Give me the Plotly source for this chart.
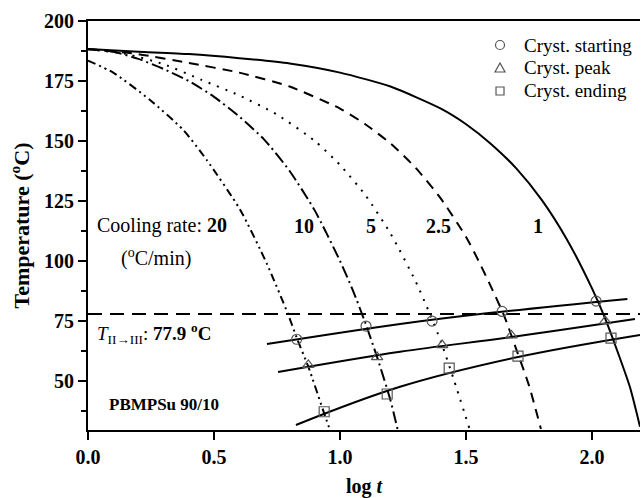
import plotly.graph_objects as go

# ---- data ----
rates = ["20", "10", "5", "2.5", "1"]

c20_x = [0, 0.1, 0.246, 0.378, 0.471, 0.603, 0.709, 0.795, 0.828, 0.874, 0.937, 0.96]
c20_T = [183.5, 178.5, 167.1, 154.6, 142.1, 121.5, 99.0, 77.5, 68.0, 56.0, 36.5, 29.6]

c10_x = [0, 0.1, 0.2, 0.3, 0.4, 0.5, 0.6, 0.7, 0.8, 0.9, 1.0, 1.05, 1.1, 1.15, 1.2, 1.228]
c10_T = [188.2, 187.2, 184.2, 180.0, 175.0, 168.4, 160.2, 150.5, 137.5, 121.0, 100.0, 88.0, 74.3, 59.0, 42.0, 30.0]

c5_x = [0, 0.15, 0.3, 0.45, 0.6, 0.75, 0.9, 1.0, 1.1, 1.2, 1.3, 1.35, 1.4, 1.45, 1.514]
c5_T = [188.2, 186.3, 182.0, 175.5, 169.0, 161.0, 150.0, 140.0, 127.5, 111.5, 91.5, 79.5, 66.5, 51.0, 30.0]

c25_x = [0, 0.2, 0.4, 0.6, 0.8, 1.0, 1.1, 1.2, 1.3, 1.4, 1.5, 1.55, 1.6, 1.65, 1.7, 1.75, 1.797]
c25_T = [188.3, 186.2, 182.5, 178.5, 172.7, 163.5, 157.0, 149.0, 138.8, 126.0, 110.0, 100.0, 89.0, 77.5, 63.0, 48.0, 30.0]

c1_x = [0, 0.2, 0.4, 0.6, 0.8, 1.0, 1.2, 1.4, 1.5, 1.6, 1.7, 1.8, 1.9, 2.0, 2.05, 2.1, 2.15, 2.19]
c1_T = [188.3, 187.2, 186.2, 184.5, 182.3, 178.5, 172.7, 163.5, 157.0, 148.7, 138.5, 125.5, 109.0, 88.5, 76.5, 62.5, 47.5, 31.0]

start_x = [0.828, 1.103, 1.365, 1.643, 2.016]
start_T = [67.4, 72.9, 75.0, 79.0, 83.3]
peak_x = [0.874, 1.147, 1.405, 1.680, 2.052]
peak_T = [56.7, 60.0, 65.0, 69.0, 75.0]
end_x = [0.937, 1.187, 1.433, 1.706, 2.075]
end_T = [37.2, 44.6, 55.4, 60.4, 67.9]

fit_start_x = [0.71, 1.238, 1.556, 2.14]
fit_start_T = [65.4, 73.75, 77.9, 84.2]
fit_peak_x = [0.754, 1.238, 1.68, 2.17]
fit_peak_T = [53.75, 62.2, 68.3, 75.8]
fit_end_x = [0.825, 1.238, 1.706, 2.19]
fit_end_T = [31.7, 47.6, 60.0, 69.2]

legend_labels = ["Cryst. starting", "Cryst. peak", "Cryst. ending"]

T_trans = 77.9
x_range = [0, 2.19]
y_range = [29.6, 200]

FONT = "Liberation Serif"

fig = go.Figure()

curves = [(c20_x, c20_T, "8px,4px,2px,4px,2px,4px"),
          (c10_x, c10_T, "12px,4px,2px,4px"),
          (c5_x, c5_T, "2px,7px"),
          (c25_x, c25_T, "10px,7px"),
          (c1_x, c1_T, "solid")]
for (xs, ts, dash), r in zip(curves, rates):
    fig.add_trace(go.Scatter(x=xs, y=ts, mode="lines", name=r + " °C/min",
                             line=dict(color="black", width=2, dash=dash, shape="spline", smoothing=0.6),
                             showlegend=False))

# transition line
fig.add_trace(go.Scatter(x=x_range, y=[T_trans, T_trans], mode="lines",
                         line=dict(color="black", width=2, dash="14px,8px"), showlegend=False))

for xs, ts in [(fit_start_x, fit_start_T), (fit_peak_x, fit_peak_T), (fit_end_x, fit_end_T)]:
    fig.add_trace(go.Scatter(x=xs, y=ts, mode="lines",
                             line=dict(color="black", width=2, shape="spline", smoothing=1.0),
                             showlegend=False))

GRAY = "#555555"
mk = dict(color="rgba(0,0,0,0)", size=10, line=dict(color=GRAY, width=1.2))
for xs, ts, sym, lab in [(start_x, start_T, "circle", legend_labels[0]),
                         (peak_x, peak_T, "triangle-up", legend_labels[1]),
                         (end_x, end_T, "square", legend_labels[2])]:
    fig.add_trace(go.Scatter(x=xs, y=ts, mode="markers", name=lab,
                             marker=dict(symbol=sym, **mk), showlegend=False))

# manual legend (symbols as pixel-sized shapes, labels as text)
leg_x_sym = 0.7464
leg_x_txt = 0.7862
leg_rows = [0.9413, 0.8851, 0.8289]
fig.add_shape(type="circle", xref="paper", yref="paper", xsizemode="pixel", ysizemode="pixel",
              xanchor=leg_x_sym, yanchor=leg_rows[0], x0=-4.5, x1=4.5, y0=-4.5, y1=4.5,
              line=dict(color=GRAY, width=1.2))
fig.add_shape(type="path", xref="paper", yref="paper", xsizemode="pixel", ysizemode="pixel",
              xanchor=leg_x_sym, yanchor=leg_rows[1], path="M -5,-4 L 5,-4 L 0,5 Z",
              line=dict(color=GRAY, width=1.2))
fig.add_shape(type="rect", xref="paper", yref="paper", xsizemode="pixel", ysizemode="pixel",
              xanchor=leg_x_sym, yanchor=leg_rows[2], x0=-4, x1=4, y0=-4, y1=4,
              line=dict(color=GRAY, width=1.2))
for lab, yy in zip(legend_labels, leg_rows):
    fig.add_annotation(xref="paper", yref="paper", x=leg_x_txt, y=yy, text=lab, showarrow=False,
                       xanchor="left", yanchor="middle", font=dict(family=FONT, size=19, color="black"))

annots = [
    dict(x=0.028, y=114.6, text="Cooling rate: <b>20</b>", xanchor="left"),
    dict(x=0.857, y=114.6, text="<b>10</b>", xanchor="center"),
    dict(x=1.123, y=114.6, text="<b>5</b>", xanchor="center"),
    dict(x=1.39, y=114.6, text="<b>2.5</b>", xanchor="center"),
    dict(x=1.786, y=114.6, text="<b>1</b>", xanchor="center"),
    dict(x=0.27, y=101.5, text="(<sup>o</sup>C/min)", xanchor="center"),
]
for a in annots:
    fig.add_annotation(xref="x", yref="y", showarrow=False, yanchor="middle",
                       font=dict(family=FONT, size=20, color="black"), **a)
fig.add_annotation(xref="x", yref="y", x=0.028, y=70,
                   text="<i>T</i><sub>II→III</sub>: <b>77.9 <sup>o</sup>C</b>",
                   showarrow=False, xanchor="left", yanchor="middle",
                   font=dict(family=FONT, size=19, color="black"))
fig.add_annotation(xref="x", yref="y", x=0.075, y=40.4, text="<b>PBMPSu 90/10</b>",
                   showarrow=False, xanchor="left", yanchor="middle",
                   font=dict(family=FONT, size=17, color="black"))

fig.update_layout(
    width=641, height=498,
    margin=dict(l=88, r=1, t=21, b=68),
    paper_bgcolor="white", plot_bgcolor="white",
    font=dict(family=FONT, color="black"),
    showlegend=False,
    xaxis=dict(range=x_range, tickvals=[0, 0.5, 1.0, 1.5, 2.0],
               ticktext=["0.0", "0.5", "1.0", "1.5", "2.0"],
               ticks="outside", ticklen=8, tickwidth=2, tickcolor="black",
               showline=True, linewidth=2, linecolor="black", mirror=True,
               showgrid=False, zeroline=False,
               tickfont=dict(family=FONT, size=20, weight="bold"),
               title=dict(text="<b>log <i>t</i></b>", font=dict(family=FONT, size=20), standoff=14)),
    yaxis=dict(range=y_range, tickvals=[50, 75, 100, 125, 150, 175, 200],
               ticks="outside", ticklen=8, tickwidth=2, tickcolor="black",
               minor=dict(tickvals=[37.5, 62.5, 87.5, 112.5, 137.5, 162.5, 187.5],
                          ticks="outside", ticklen=5, tickwidth=1.5, tickcolor="black"),
               showline=True, linewidth=2, linecolor="black", mirror=False,
               showgrid=False, zeroline=False,
               tickfont=dict(family=FONT, size=20, weight="bold"),
               title=dict(text="<b>Temperature (<sup>o</sup>C)</b>", font=dict(family=FONT, size=22), standoff=8)),
)

fig.write_html("out.html")
